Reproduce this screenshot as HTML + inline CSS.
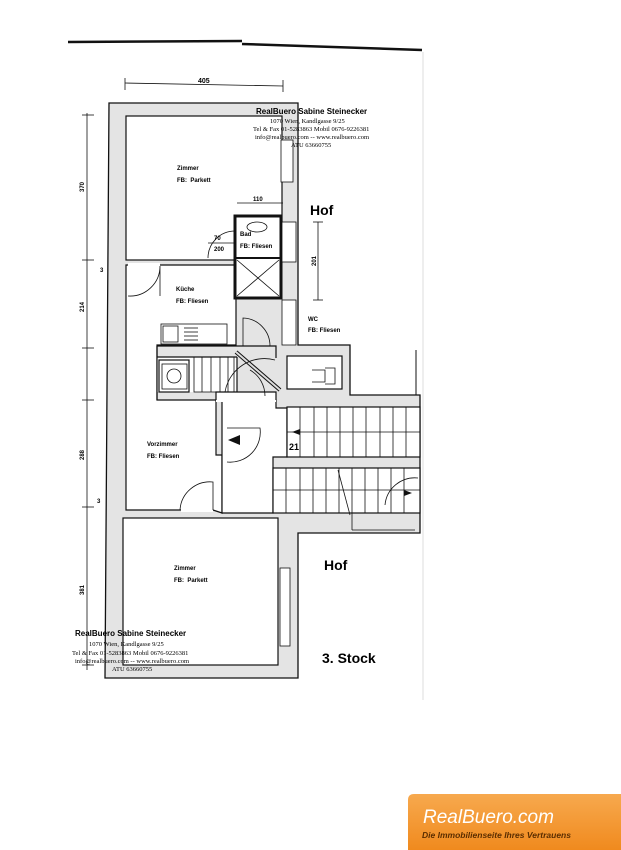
<!DOCTYPE html>
<html><head><meta charset="utf-8"><style>
html,body{margin:0;padding:0;background:#fff}
svg{display:block}
text{font-family:"Liberation Sans",sans-serif}
.w{fill:#e4e4e4;stroke:#111;stroke-width:1.3}
.l{stroke:#111;stroke-width:1.2;fill:none}
.t{stroke:#111;stroke-width:0.8;fill:none}
.wh{fill:#fff;stroke:#111;stroke-width:1.2}
.nf{fill:#fff;stroke:none}
.s{font-size:6px;font-weight:bold}
.serif{font-family:"Liberation Serif",serif;font-size:6.5px}
</style></head><body>
<svg width="621" height="850" viewBox="0 0 621 850" xmlns="http://www.w3.org/2000/svg">
<rect width="621" height="850" fill="#fff"/>
<path d="M68 42 L242 41" stroke="#111" stroke-width="2.5"/>
<path d="M242 44 L422 50" stroke="#111" stroke-width="2.5"/>
<line x1="423" y1="52" x2="423" y2="700" stroke="#eee" stroke-width="2"/>
<!-- dimension top -->
<line x1="125" y1="83" x2="283" y2="86" class="t"/>
<line x1="125" y1="78" x2="125" y2="90" class="t"/><line x1="283" y1="80" x2="283" y2="92" class="t"/>
<text x="198" y="83" font-size="7" font-weight="bold">405</text>
<line x1="87" y1="113" x2="87" y2="670" class="t"/>
<g class="t"><line x1="82" y1="115" x2="94" y2="115"/><line x1="82" y1="260" x2="94" y2="260"/><line x1="82" y1="348" x2="94" y2="348"/><line x1="82" y1="400" x2="94" y2="400"/><line x1="82" y1="507" x2="94" y2="507"/><line x1="82" y1="665" x2="94" y2="665"/></g>
<text transform="translate(84,192) rotate(-90)" class="s">370</text>
<text transform="translate(84,312) rotate(-90)" class="s">214</text>
<text transform="translate(84,460) rotate(-90)" class="s">288</text>
<text transform="translate(84,595) rotate(-90)" class="s">381</text>
<text x="100" y="272" class="s">3</text><text x="97" y="503" class="s">3</text>
<!-- shell -->
<path class="w" d="M109 103 L298 103 L298 345 L350 345 L350 395 L420 395 L420 533 L298 533 L298 678 L105 678 Z"/>
<!-- rooms -->
<rect x="126" y="116" width="156" height="144" class="wh"/>
<path class="wh" d="M126 265 L236 265 L236 345 L157 345 L157 400 L216 400 L216 455 L222 455 L222 513 L213 510 L126 510 Z"/>
<path class="wh" d="M222 400 L276 400 L276 408 L287 408 L287 457 L273 457 L273 513 L222 513 Z"/>
<rect x="216" y="392" width="60" height="10" class="nf"/>
<rect x="123" y="518" width="155" height="147" class="wh"/>
<!-- kitchen stairs zone -->
<rect x="157" y="357" width="80" height="35" class="nf"/>
<path class="l" d="M157 346 L276 346 L276 358 M157 346 L157 400 M157 357 L237 357 M237 357 L237 392 M216 400 L216 392 L276 392 L276 400"/>
<rect x="159" y="360" width="30" height="32" class="wh"/>
<g class="t"><rect x="194" y="357" width="40" height="35"/>
<line x1="202" y1="357" x2="202" y2="392"/><line x1="211" y1="357" x2="211" y2="392"/><line x1="220" y1="357" x2="220" y2="392"/><line x1="228" y1="357" x2="228" y2="392"/></g>
<line x1="236" y1="352" x2="280" y2="390" stroke="#111" stroke-width="4"/>
<line x1="236" y1="352" x2="280" y2="390" stroke="#ddd" stroke-width="2"/>
<path class="t" d="M225 392 A40 40 0 0 1 275 360"/>
<path class="t" d="M250 370 A30 30 0 0 1 265 396"/>
<rect x="161" y="324" width="66" height="20" class="wh" style="stroke-width:0.8"/>
<rect x="163" y="326" width="15" height="16" class="t"/><g class="t"><line x1="184" y1="328" x2="198" y2="328"/><line x1="184" y1="332" x2="198" y2="332"/><line x1="184" y1="336" x2="198" y2="336"/><line x1="184" y1="340" x2="198" y2="340"/></g>
<rect x="162" y="364" width="25" height="25" class="t"/><circle cx="174" cy="376" r="7" class="t"/>
<!-- Bad -->
<rect x="235" y="216" width="46" height="82" style="fill:#fff;stroke:#111;stroke-width:3"/>
<line x1="235" y1="258" x2="281" y2="258" stroke="#111" stroke-width="2"/>
<path class="t" d="M237 260 L279 296 M279 260 L237 296"/>
<ellipse cx="257" cy="227" rx="10" ry="5" class="t"/>
<path class="t" d="M208 258 A27 27 0 0 1 235 231"/>
<line x1="208" y1="243" x2="235" y2="243" class="t"/>
<text x="214" y="240" class="s">70</text><text x="214" y="251" class="s">200</text>
<text x="240" y="236" class="s">Bad</text><text x="240" y="248" class="s">FB: Fliesen</text>
<line x1="237" y1="203" x2="283" y2="203" class="t"/><text x="253" y="201" class="s">110</text>
<!-- WC -->
<rect x="287" y="356" width="55" height="33" class="wh"/>
<path class="t" d="M312 370 L325 370 L325 382 L312 382 M325 368 L335 368 L335 384 L325 384"/>
<!-- windows -->
<rect x="281" y="140" width="12" height="42" class="wh" style="stroke-width:0.8"/>
<rect x="282" y="222" width="14" height="40" class="wh" style="stroke-width:0.8"/>
<rect x="282" y="300" width="14" height="45" class="wh" style="stroke-width:0.8"/>
<rect x="280" y="568" width="10" height="78" class="wh" style="stroke-width:0.8"/>
<!-- doors -->
<rect x="128" y="263" width="32" height="4" class="nf"/>
<path class="t" d="M128 296 A30 30 0 0 0 160 266 L160 296"/>
<path class="t" d="M243 346 L243 318 A28 28 0 0 1 270 346"/>
<path class="t" d="M227 462 A30 30 0 0 0 260 428 L227 428"/>
<polygon points="228,440 240,435 240,445" fill="#111"/>
<rect x="181" y="508" width="32" height="4" class="nf"/>
<path class="t" d="M180 510 A30 30 0 0 1 213 482 L213 510"/>
<!-- stairs -->
<rect x="287" y="407" width="133" height="50" class="wh"/>
<rect x="273" y="468" width="147" height="45" class="wh"/>
<g class="t">
<line x1="287" y1="432" x2="420" y2="432"/><line x1="273" y1="490" x2="420" y2="490"/>
<line x1="300" y1="407" x2="300" y2="457"/><line x1="314" y1="407" x2="314" y2="457"/><line x1="327" y1="407" x2="327" y2="457"/><line x1="340" y1="407" x2="340" y2="457"/><line x1="353" y1="407" x2="353" y2="457"/><line x1="366" y1="407" x2="366" y2="457"/><line x1="380" y1="407" x2="380" y2="457"/><line x1="393" y1="407" x2="393" y2="457"/><line x1="406" y1="407" x2="406" y2="457"/>
<line x1="286" y1="468" x2="286" y2="513"/><line x1="300" y1="468" x2="300" y2="513"/><line x1="313" y1="468" x2="313" y2="513"/><line x1="326" y1="468" x2="326" y2="513"/><line x1="339" y1="468" x2="339" y2="513"/><line x1="352" y1="468" x2="352" y2="513"/><line x1="365" y1="468" x2="365" y2="513"/><line x1="378" y1="468" x2="378" y2="513"/><line x1="391" y1="468" x2="391" y2="513"/><line x1="404" y1="468" x2="404" y2="513"/>
<line x1="338" y1="470" x2="350" y2="515"/>
<path d="M385 505 A30 30 0 0 1 418 478"/>
<line x1="352" y1="513" x2="352" y2="530"/><line x1="352" y1="530" x2="415" y2="530"/>
</g>
<polygon points="292,432 300,429 300,435" fill="#111"/>
<text x="289" y="450" font-size="9" font-weight="bold">21</text>
<polygon points="412,493 404,490 404,496" fill="#111"/>
<line x1="416" y1="350" x2="416" y2="395" stroke="#111" stroke-width="1"/>
<line x1="318" y1="222" x2="318" y2="300" class="t"/>
<line x1="313" y1="222" x2="323" y2="222" class="t"/><line x1="313" y1="300" x2="323" y2="300" class="t"/>
<text transform="translate(316,266) rotate(-90)" class="s">201</text>
<!-- labels -->
<text x="177" y="170" class="s">Zimmer</text><text x="177" y="182" class="s">FB:&#160;&#160;Parkett</text>
<text x="176" y="291" class="s">Küche</text><text x="176" y="303" class="s">FB: Fliesen</text>
<text x="308" y="321" class="s">WC</text><text x="308" y="332" class="s">FB: Fliesen</text>
<text x="147" y="446" class="s">Vorzimmer</text><text x="147" y="458" class="s">FB: Fliesen</text>
<text x="174" y="570" class="s">Zimmer</text><text x="174" y="582" class="s">FB:&#160;&#160;Parkett</text>
<text x="310" y="215" font-size="14" font-weight="bold">Hof</text>
<text x="324" y="570" font-size="14" font-weight="bold">Hof</text>
<text x="322" y="663" font-size="14" font-weight="bold">3. Stock</text>
<text x="256" y="114" font-size="8" font-weight="bold">RealBuero Sabine Steinecker</text>
<text x="270" y="123" class="serif">1070 Wien, Kandlgasse 9/25</text>
<text x="253" y="131" class="serif">Tel &amp; Fax 01-5283863 Mobil 0676-9226381</text>
<text x="255" y="139" class="serif">info@realbuero.com -- www.realbuero.com</text>
<text x="291" y="147" class="serif">ATU 63660755</text>
<text x="75" y="636" font-size="8" font-weight="bold">RealBuero Sabine Steinecker</text>
<text x="89" y="646" class="serif">1070 Wien, Kandlgasse 9/25</text>
<text x="72" y="655" class="serif">Tel &amp; Fax 01-5283863 Mobil 0676-9226381</text>
<text x="75" y="663" class="serif">info@realbuero.com -- www.realbuero.com</text>
<text x="112" y="671" class="serif">ATU 63660755</text>
<defs><linearGradient id="g" x1="0" y1="0" x2="0" y2="1"><stop offset="0" stop-color="#f7a94e"/><stop offset="1" stop-color="#f08a1e"/></linearGradient></defs>
<path d="M408 850 L408 800 Q408 794 414 794 L621 794 L621 850 Z" fill="url(#g)"/>
<text x="423" y="823" font-size="19" font-style="italic" fill="#fff" font-family="DejaVu Sans, sans-serif">RealBuero.com</text>
<text x="422" y="838" font-size="8.5" font-style="italic" font-weight="bold" fill="#5a2d00" font-family="DejaVu Sans, sans-serif">Die Immobilienseite Ihres Vertrauens</text>
</svg>
</body></html>
